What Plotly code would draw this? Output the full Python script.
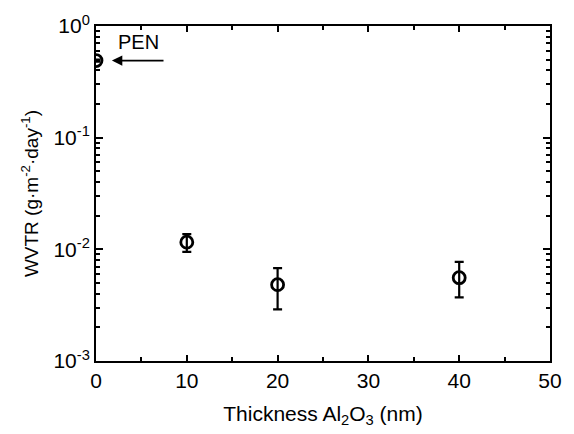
import plotly.graph_objects as go

thickness = [0, 10, 20, 40]
wvtr = [0.49, 0.0116, 0.00483, 0.00557]
err_plus = [0.01, 0.0021, 0.00196, 0.00216]
err_minus = [0.01, 0.0021, 0.00193, 0.00186]

y_tickvals = [1e-3, 1e-2, 1e-1, 1e0]
y_ticktext = ["10<sup>-3</sup>", "10<sup>-2</sup>", "10<sup>-1</sup>", "10<sup>0</sup>"]
x_tickvals = [0, 10, 20, 30, 40, 50]

FONT = "Liberation Sans, Arial, sans-serif"

fig = go.Figure()
fig.add_trace(go.Scatter(
    x=thickness, y=wvtr, mode="markers",
    marker=dict(symbol="circle-open", size=12, color="black", line=dict(width=2.8, color="black")),
    error_y=dict(type="data", array=err_plus, arrayminus=err_minus, color="black", thickness=2.2, width=4.5),
    cliponaxis=True, showlegend=False,
))

fig.add_annotation(x=1.75, y=-0.31, ax=7.6, ay=-0.31, xref="x", yref="y", axref="x", ayref="y",
                   text="", showarrow=True, arrowhead=2, arrowsize=1.3, arrowwidth=1.6, arrowcolor="black")
fig.add_annotation(x=4.7, y=-0.14, xref="x", yref="y", text="PEN", showarrow=False,
                   font=dict(size=20, color="black", family=FONT))

axis_common = dict(showline=True, linecolor="black", linewidth=2, mirror="ticks", ticks="inside",
                   tickcolor="black", tickwidth=1.5, showgrid=False, zeroline=False,
                   tickfont=dict(size=21, color="black", family=FONT))

fig.update_xaxes(range=[0, 50], tickvals=x_tickvals, ticklen=6,
                 minor=dict(ticks="inside", dtick=5, ticklen=4, tickcolor="black", tickwidth=1.5),
                 title=dict(text="Thickness Al<sub>2</sub>O<sub>3</sub> (nm)", font=dict(size=21, color="black", family=FONT), standoff=15),
                 **axis_common)
fig.update_yaxes(type="log", range=[-3, 0], tickvals=y_tickvals, ticktext=y_ticktext, ticklen=7,
                 minor=dict(ticks="inside", ticklen=4, tickcolor="black", tickwidth=1.5, dtick="D1"),
                 title=dict(text="WVTR (g·m<sup>-2</sup>·day<sup>-1</sup>)", font=dict(size=19, color="black", family=FONT), standoff=10),
                 **axis_common)

fig.update_layout(width=574, height=434, margin=dict(l=96, r=15, t=25, b=71),
                  plot_bgcolor="white", paper_bgcolor="white", font=dict(family=FONT, color="black"))

# remove the default 8px page margin so the figure fills the 574x434 window exactly
fig.write_html("out.html",
               config={"displayModeBar": False},
               post_script="document.body.style.margin='0';"
                           "document.body.style.overflow='hidden';"
                           "document.documentElement.style.overflow='hidden';")
